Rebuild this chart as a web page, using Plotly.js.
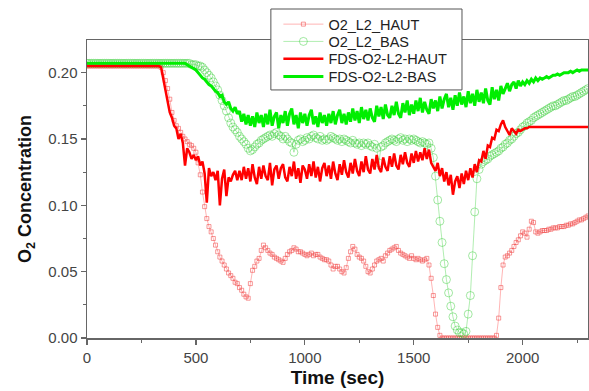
<!DOCTYPE html>
<html>
<head>
<meta charset="utf-8">
<script src="https://cdn.plot.ly/plotly-3.0.1.min.js"></script>
<style>html,body{margin:0;padding:0;background:#fff;}#chart{width:589px;height:391px;}</style>
</head>
<body>
<div id="chart"></div>
<script>
// Sampling grid: one reading every 10 s from 0 to 2300 s
const timeSec = [];
for (let s = 0; s <= 2300; s += 10) timeSec.push(s);

// Measured O2 at L2, upper probe (O2_L2_HAUT)
const o2L2Haut = [
  0.205,0.205,0.205,0.205,0.205,0.205,0.205,0.205,0.205,0.205,
  0.205,0.205,0.205,0.205,0.205,0.205,0.205,0.205,0.205,0.205,
  0.205,0.205,0.205,0.205,0.205,0.205,0.205,0.205,0.205,0.205,
  0.205,0.205,0.205,0.205,0.204,0.200,0.194,0.188,0.180,0.170,
  0.164,0.160,0.158,0.155,0.152,0.150,0.148,0.146,0.145,0.143,
  0.140,0.132,0.123,0.110,0.099,0.090,0.084,0.080,0.075,0.070,
  0.065,0.061,0.058,0.055,0.052,0.049,0.047,0.045,0.042,0.041,
  0.038,0.036,0.033,0.031,0.030,0.041,0.051,0.054,0.058,0.060,
  0.066,0.070,0.068,0.066,0.064,0.063,0.061,0.060,0.059,0.058,
  0.057,0.060,0.063,0.065,0.066,0.068,0.067,0.065,0.065,0.064,
  0.063,0.062,0.063,0.064,0.062,0.063,0.063,0.061,0.060,0.059,
  0.059,0.058,0.055,0.052,0.054,0.054,0.052,0.050,0.049,0.053,
  0.060,0.065,0.069,0.067,0.063,0.061,0.060,0.058,0.054,0.050,
  0.049,0.052,0.055,0.058,0.059,0.060,0.058,0.062,0.064,0.066,
  0.067,0.068,0.069,0.066,0.064,0.063,0.062,0.061,0.060,0.062,
  0.060,0.059,0.060,0.059,0.058,0.059,0.060,0.055,0.045,0.032,
  0.018,0.008,0.002,0.000,0.000,0.000,0.000,0.000,0.000,0.000,
  0.000,0.000,0.000,0.000,0.000,0.000,0.000,0.000,0.000,0.000,
  0.000,0.000,0.000,0.000,0.000,0.000,0.000,0.000,0.002,0.015,
  0.038,0.055,0.061,0.062,0.064,0.066,0.069,0.072,0.074,0.077,
  0.080,0.079,0.076,0.082,0.088,0.087,0.080,0.079,0.080,0.081,
  0.081,0.081,0.082,0.082,0.083,0.083,0.083,0.084,0.084,0.084,
  0.085,0.085,0.086,0.086,0.087,0.088,0.089,0.089,0.090,0.091,
  0.092
];

// Measured O2 at L2, lower probe (O2_L2_BAS)
const o2L2Bas = [
  0.207,0.207,0.207,0.207,0.207,0.207,0.207,0.207,0.207,0.207,
  0.207,0.207,0.207,0.207,0.207,0.207,0.207,0.207,0.207,0.207,
  0.207,0.207,0.207,0.207,0.207,0.207,0.207,0.207,0.207,0.207,
  0.207,0.207,0.207,0.207,0.207,0.207,0.207,0.207,0.207,0.207,
  0.207,0.207,0.207,0.207,0.207,0.207,0.207,0.207,0.206,0.206,
  0.206,0.205,0.205,0.204,0.202,0.200,0.198,0.196,0.193,0.190,
  0.187,0.183,0.179,0.175,0.171,0.166,0.162,0.159,0.157,0.155,
  0.152,0.150,0.148,0.146,0.143,0.141,0.142,0.144,0.146,0.147,
  0.149,0.150,0.151,0.152,0.153,0.152,0.154,0.155,0.153,0.152,
  0.150,0.152,0.150,0.148,0.147,0.140,0.146,0.149,0.150,0.148,
  0.149,0.151,0.150,0.152,0.153,0.151,0.150,0.152,0.149,0.150,
  0.149,0.150,0.152,0.151,0.150,0.149,0.150,0.148,0.150,0.149,
  0.148,0.147,0.149,0.147,0.146,0.147,0.145,0.147,0.146,0.147,
  0.145,0.144,0.146,0.143,0.132,0.144,0.145,0.147,0.148,0.149,
  0.150,0.149,0.148,0.150,0.151,0.149,0.150,0.148,0.150,0.149,
  0.150,0.149,0.148,0.147,0.148,0.147,0.146,0.147,0.143,0.136,
  0.122,0.104,0.088,0.072,0.056,0.044,0.034,0.024,0.016,0.009,
  0.006,0.004,0.004,0.003,0.005,0.018,0.032,0.062,0.095,0.120,
  0.127,0.131,0.133,0.134,0.135,0.137,0.138,0.139,0.140,0.141,
  0.143,0.144,0.146,0.147,0.149,0.150,0.152,0.154,0.155,0.157,
  0.159,0.160,0.162,0.163,0.164,0.166,0.167,0.168,0.169,0.170,
  0.171,0.172,0.173,0.174,0.175,0.175,0.176,0.177,0.178,0.179,
  0.179,0.180,0.181,0.182,0.182,0.183,0.184,0.185,0.186,0.187,
  0.188
];

// FDS simulation, upper probe (FDS-O2-L2-HAUT)
const fdsL2Haut = [
  0.205,0.205,0.205,0.205,0.205,0.205,0.205,0.205,0.205,0.205,
  0.205,0.205,0.205,0.205,0.205,0.205,0.205,0.205,0.205,0.205,
  0.205,0.205,0.205,0.205,0.205,0.205,0.205,0.205,0.205,0.205,
  0.205,0.205,0.205,0.205,0.204,0.195,0.185,0.178,0.170,0.166,
  0.160,0.158,0.150,0.154,0.147,0.130,0.143,0.140,0.135,0.138,
  0.134,0.137,0.130,0.133,0.124,0.102,0.128,0.122,0.125,0.119,
  0.126,0.100,0.120,0.127,0.107,0.121,0.118,0.123,0.126,0.119,
  0.126,0.119,0.129,0.120,0.128,0.118,0.131,0.121,0.116,0.129,
  0.120,0.130,0.122,0.119,0.132,0.115,0.127,0.130,0.120,0.128,
  0.131,0.121,0.118,0.129,0.122,0.133,0.120,0.128,0.117,0.130,
  0.127,0.120,0.131,0.122,0.133,0.121,0.129,0.118,0.128,0.132,
  0.122,0.130,0.120,0.133,0.124,0.119,0.131,0.123,0.134,0.125,
  0.121,0.132,0.124,0.135,0.126,0.122,0.133,0.125,0.137,0.127,
  0.124,0.135,0.127,0.138,0.128,0.125,0.136,0.129,0.126,0.137,
  0.129,0.139,0.130,0.127,0.138,0.131,0.140,0.132,0.129,0.139,
  0.132,0.141,0.133,0.140,0.134,0.143,0.135,0.142,0.132,0.129,
  0.126,0.132,0.122,0.128,0.118,0.125,0.115,0.123,0.108,0.118,
  0.122,0.113,0.124,0.116,0.126,0.119,0.128,0.121,0.131,0.125,
  0.134,0.133,0.141,0.135,0.145,0.144,0.151,0.150,0.157,0.156,
  0.161,0.164,0.159,0.156,0.153,0.158,0.156,0.154,0.157,0.156,
  0.157,0.158,0.158,0.159,0.159,0.159,0.159,0.159,0.159,0.159,
  0.159,0.159,0.159,0.159,0.159,0.159,0.159,0.159,0.159,0.159,
  0.159,0.159,0.159,0.159,0.159,0.159,0.159,0.159,0.159,0.159,
  0.159
];

// FDS simulation, lower probe (FDS-O2-L2-BAS)
const fdsL2Bas = [
  0.207,0.207,0.207,0.207,0.207,0.207,0.207,0.207,0.207,0.207,
  0.207,0.207,0.207,0.207,0.207,0.207,0.207,0.207,0.207,0.207,
  0.207,0.207,0.207,0.207,0.207,0.207,0.207,0.207,0.207,0.207,
  0.207,0.207,0.207,0.207,0.207,0.207,0.207,0.207,0.207,0.207,
  0.207,0.207,0.207,0.207,0.207,0.207,0.206,0.205,0.204,0.203,
  0.202,0.200,0.198,0.196,0.195,0.193,0.191,0.190,0.188,0.186,
  0.185,0.182,0.183,0.178,0.176,0.178,0.173,0.171,0.174,0.169,
  0.171,0.163,0.169,0.161,0.168,0.160,0.167,0.159,0.170,0.162,
  0.168,0.159,0.169,0.161,0.172,0.160,0.167,0.170,0.158,0.168,
  0.162,0.171,0.160,0.169,0.173,0.161,0.168,0.158,0.170,0.162,
  0.169,0.160,0.168,0.172,0.161,0.167,0.159,0.170,0.162,0.168,
  0.160,0.169,0.162,0.171,0.161,0.168,0.172,0.162,0.169,0.161,
  0.170,0.163,0.173,0.164,0.171,0.162,0.174,0.165,0.172,0.164,
  0.173,0.166,0.163,0.175,0.167,0.174,0.165,0.176,0.168,0.166,
  0.175,0.168,0.178,0.169,0.166,0.177,0.170,0.179,0.168,0.176,
  0.169,0.179,0.171,0.181,0.170,0.178,0.172,0.169,0.180,0.173,
  0.179,0.171,0.182,0.173,0.180,0.184,0.174,0.181,0.172,0.183,
  0.175,0.185,0.176,0.182,0.174,0.186,0.177,0.184,0.175,0.187,
  0.178,0.185,0.177,0.188,0.179,0.176,0.189,0.180,0.187,0.179,
  0.190,0.184,0.188,0.192,0.186,0.191,0.193,0.188,0.194,0.190,
  0.193,0.191,0.194,0.192,0.195,0.193,0.196,0.194,0.196,0.195,
  0.196,0.197,0.196,0.197,0.198,0.198,0.199,0.198,0.199,0.200,
  0.200,0.200,0.201,0.200,0.201,0.202,0.201,0.202,0.202,0.202,
  0.202
];

const seriesNames = ['O2_L2_HAUT', 'O2_L2_BAS', 'FDS-O2-L2-HAUT', 'FDS-O2-L2-BAS'];
const xTitle = 'Time (sec)';
const yTitle = 'O<sub>2</sub> Concentration';

const traces = [
  {x: timeSec, y: o2L2Haut, name: seriesNames[0], type: 'scatter', mode: 'lines+markers', legend: 'legend',
   line: {color: 'rgba(255,90,90,0.45)', width: 1},
   marker: {symbol: 'square-open', size: 4, color: 'rgba(240,70,70,0.55)', line: {width: 1}}},
  {x: timeSec, y: o2L2Bas, name: seriesNames[1], type: 'scatter', mode: 'lines+markers', legend: 'legend2',
   line: {color: 'rgba(60,210,60,0.4)', width: 1},
   marker: {symbol: 'circle-open', size: 8, color: 'rgba(50,205,50,0.45)', line: {width: 1}}},
  {x: timeSec, y: fdsL2Haut, name: seriesNames[2], type: 'scatter', mode: 'lines', legend: 'legend3',
   line: {color: '#ff0000', width: 2.5}},
  {x: timeSec, y: fdsL2Bas, name: seriesNames[3], type: 'scatter', mode: 'lines', legend: 'legend4',
   line: {color: '#00ee00', width: 3}}
];

const fontFam = 'Liberation Sans, Arial, sans-serif';
const axisCommon = {
  showgrid: false, zeroline: false, showline: true, mirror: true,
  linecolor: '#666', linewidth: 1.5, ticks: 'outside', ticklen: 5, tickwidth: 1.2,
  tickcolor: '#666', tickfont: {family: fontFam, size: 15, color: '#444'}
};

function legendAt(yPaper) {
  return {x: 0.382, y: yPaper, xanchor: 'left', yanchor: 'middle',
          bgcolor: 'rgba(0,0,0,0)', borderwidth: 0, itemwidth: 40,
          font: {family: fontFam, size: 14.5, color: '#222'}};
}

const layout = {
  width: 589, height: 391,
  margin: {l: 87, r: 1, t: 40, b: 53},
  paper_bgcolor: '#fff', plot_bgcolor: '#fff',
  showlegend: true,
  legend: legendAt(1.053),
  legend2: legendAt(0.995),
  legend3: legendAt(0.937),
  legend4: legendAt(0.877),
  shapes: [{type: 'rect', xref: 'paper', yref: 'paper', layer: 'above',
            x0: 0.367, x1: 0.7485, y0: 0.8324, y1: 1.104,
            fillcolor: '#fff', line: {color: '#555', width: 1}}],
  xaxis: Object.assign({}, axisCommon, {
    range: [0, 2300], dtick: 500, tick0: 0,
    minor: {dtick: 250, ticks: 'outside', ticklen: 3, tickcolor: '#666'},
    title: {text: xTitle, standoff: 6, font: {family: fontFam, size: 19, color: '#111', weight: 'bold'}}
  }),
  yaxis: Object.assign({}, axisCommon, {
    range: [0, 0.2246], dtick: 0.05, tick0: 0, tickformat: '.2f',
    minor: {dtick: 0.025, ticks: 'outside', ticklen: 3, tickcolor: '#666'},
    title: {text: yTitle, standoff: 12, font: {family: fontFam, size: 18, color: '#111', weight: 'bold'}}
  })
};

Plotly.newPlot('chart', traces, layout, {displayModeBar: false, staticPlot: true});
</script>
</body>
</html>
